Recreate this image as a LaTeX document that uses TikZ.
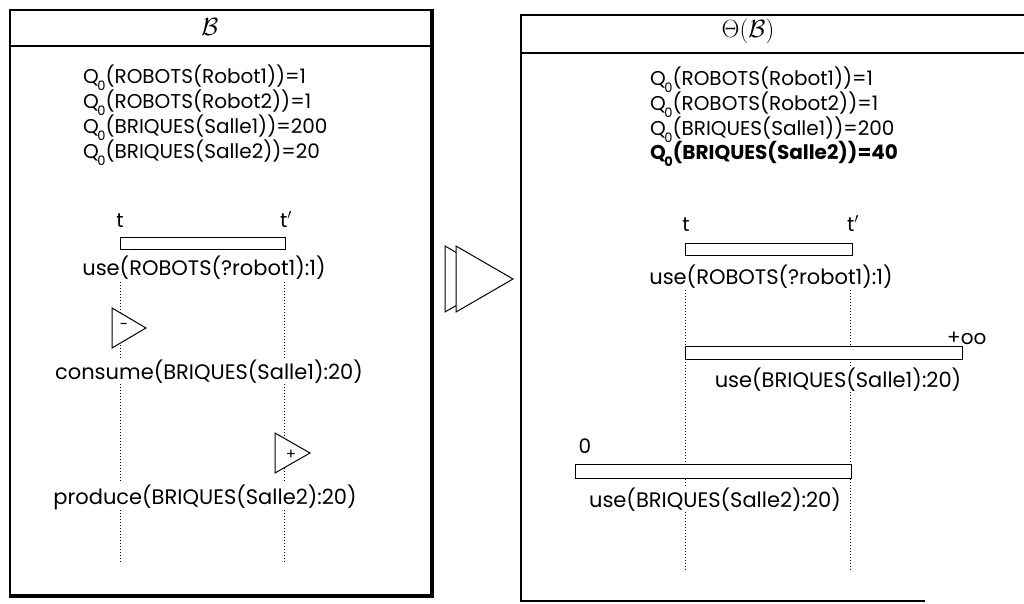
\documentclass[tikz,border=0pt]{standalone}
\usepackage{fontspec}
\setmainfont{Poppins}
\usetikzlibrary{shapes.geometric}
\newcommand{\Qz}{Q\kern-0.08em\raisebox{-0.55ex}{\fontsize{13}{13}\selectfont 0}}
\begin{document}
\begin{tikzpicture}[x=1pt,y=-1pt,
  lbl/.style={font=\fontsize{21}{21}\selectfont, inner sep=1pt, fill=white},
  qline/.style={font=\fontsize{20}{20}\selectfont, inner sep=0pt, anchor=base west},
  ttl/.style={font=\fontsize{25}{25}\selectfont, inner sep=0pt},
  tl/.style={font=\fontsize{20}{20}\selectfont, inner sep=0pt},
  bar/.style={draw, line width=1.2pt, fill=white, inner sep=0pt, anchor=north west, minimum height=12pt},
  tri/.style={draw, line width=1pt, fill=white},
  dotl/.style={dotted, line width=1pt},
  frame/.style={line width=1.4pt},
  shadow/.style={line width=4pt},
]
\useasboundingbox (0,0) rectangle (1024,604);

% ---------- left panel ----------
\draw[frame] (10,596) -- (10,10) -- (432,10);
\draw[frame] (10,46) -- (432,46);
\draw[shadow] (432,9) -- (432,596) -- (9,596);
\node[ttl] (titleL) at (210,27) {$\mathcal{B}$};

\node[qline] (lq1) at (83,84) {\Qz(ROBOTS(Robot1))=1};
\node[qline] (lq2) at (83,109) {\Qz(ROBOTS(Robot2))=1};
\node[qline] (lq3) at (83,134) {\Qz(BRIQUES(Salle1))=200};
\node[qline] (lq4) at (83,159) {\Qz(BRIQUES(Salle2))=20};

\node[tl, anchor=base] (lt) at (120,227) {t};
\node[tl, anchor=base] (ltp) at (286,227) {t$'$};

\coordinate (lAtop) at (120,282);
\coordinate (lAbot) at (120,563);
\coordinate (lBtop) at (284,282);
\coordinate (lBbot) at (284,563);
\draw[dotl] (lAtop) -- (lAbot);
\draw[dotl] (lBtop) -- (lBbot);

\node[bar, minimum width=165pt] (lbar) at (120,237) {};

\draw[tri] (112,308) -- (112,348) -- (146,328) -- cycle;
\node[inner sep=0pt, font=\fontsize{15}{15}\selectfont] (minus) at (124,326) {-};
\draw[tri] (275,433) -- (275,473) -- (310,453) -- cycle;
\node[inner sep=0pt, font=\fontsize{15}{15}\selectfont] (plus) at (291,455) {+};

\node[lbl, anchor=base] (luse) at (204,275) {use(ROBOTS(?robot1):1)};
\node[lbl, anchor=base] (lcons) at (209,379) {consume(BRIQUES(Salle1):20)};
\node[lbl, anchor=base] (lprod) at (205,504) {produce(BRIQUES(Salle2):20)};

% ---------- middle arrow ----------
\draw[tri] (445,246) -- (445,312) -- (502,279) -- cycle;
\draw[tri] (456,246) -- (456,312) -- (513,279) -- cycle;

% ---------- right panel ----------
\draw[frame] (1024,15) -- (521,15) -- (521,601) -- (925,601);
\draw[frame] (521,53) -- (1024,53);
\node[ttl] (titleR) at (748,31) {$\Theta(\mathcal{B})$};

\node[qline] (rq1) at (650,86) {\Qz(ROBOTS(Robot1))=1};
\node[qline] (rq2) at (650,111) {\Qz(ROBOTS(Robot2))=1};
\node[qline] (rq3) at (650,136) {\Qz(BRIQUES(Salle1))=200};
\node[qline] (rq4) at (650,160) {\bfseries\Qz(BRIQUES(Salle2))=40};

\node[tl, anchor=base] (rt) at (686,231) {t};
\node[tl, anchor=base] (rtp) at (853,231) {t$'$};

\coordinate (rAtop) at (685,290);
\coordinate (rAbot) at (685,570);
\coordinate (rBtop) at (850,290);
\coordinate (rBbot) at (850,570);
\draw[dotl] (rAtop) -- (rAbot);
\draw[dotl] (rBtop) -- (rBbot);

\node[bar, minimum width=167pt] (rbar1) at (685,243) {};
\node[bar, minimum width=277pt, minimum height=13pt] (rbar2) at (685,346) {};
\node[bar, minimum width=276pt, minimum height=14pt] (rbar3) at (575,464) {};

\node[tl, anchor=base west] (inf) at (947,344) {+oo};
\node[tl, anchor=base] (zero) at (585,453) {0};

\node[lbl, anchor=base] (ruse1) at (771,284) {use(ROBOTS(?robot1):1)};
\node[lbl, anchor=base] (ruse2) at (838,387) {use(BRIQUES(Salle1):20)};
\node[lbl, anchor=base] (ruse3) at (715,507) {use(BRIQUES(Salle2):20)};
\end{tikzpicture}
\end{document}
